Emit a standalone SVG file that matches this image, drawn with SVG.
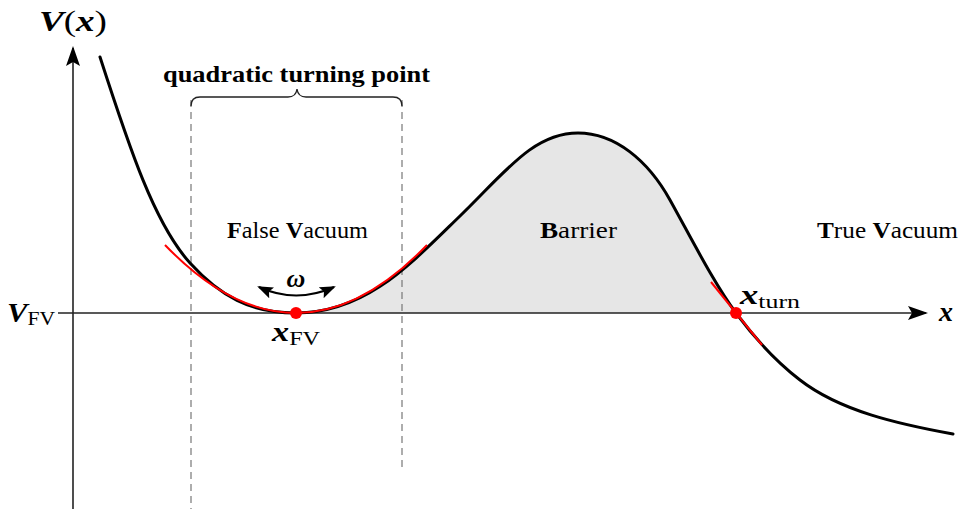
<svg xmlns="http://www.w3.org/2000/svg" width="961" height="509" viewBox="0 0 961 509">
<style>
.lbl{font-family:"Liberation Serif","Times New Roman",serif;fill:#000}
.bi{font-weight:bold;font-style:italic}
.b{font-weight:bold}
.axis{stroke:#222;stroke-width:1.6;fill:none}
.dash{stroke:#777;stroke-width:1.2;stroke-dasharray:7,5;fill:none}
.curve{stroke:#000;stroke-width:3;fill:none;stroke-linecap:round}
.tan{stroke:#f00;stroke-width:2;fill:none}
</style>
<defs>
<marker id="arr" viewBox="0 0 20 14" refX="18" refY="7" markerWidth="20" markerHeight="14" markerUnits="userSpaceOnUse" orient="auto">
<path d="M0,0 L20,7 L0,14 L4,7 Z" fill="#000"/>
</marker>
<marker id="arrs" viewBox="0 0 16 12" refX="14" refY="6" markerWidth="16" markerHeight="12" markerUnits="userSpaceOnUse" orient="auto-start-reverse">
<path d="M0,0 L16,6 L0,12 L3,6 Z" fill="#000"/>
</marker>
</defs>

<g id="barrier-fill">
<path d="M296,313 C366,313 410,264.5 460,216 C505,172.4 533,133 578,133 C615,133 648,160.4 670,200 C692,239.6 714,283.3 736,313 Z" fill="#e6e6e6"/>
</g>

<g id="guides">
<line class="dash" x1="191" y1="100" x2="191" y2="509"/>
<line class="dash" x1="402" y1="100" x2="402" y2="470"/>
<path d="M191,106 Q191,97 200,97 L288,97 Q296,97 297,89 Q298,97 306,97 L393,97 Q402,97 402,106" stroke="#222" stroke-width="1.3" fill="none"/>
<text class="lbl b" x="163" y="82" font-size="23" textLength="267" lengthAdjust="spacingAndGlyphs">quadratic turning point</text>
</g>

<g id="axes">
<line class="axis" x1="58" y1="313" x2="926" y2="313" marker-end="url(#arr)"/>
<line class="axis" x1="73" y1="509" x2="73" y2="48" marker-end="url(#arr)"/>
</g>

<g id="connectors">
<path class="curve" d="M100,57 C130,150 155,224.5 190,263 C220,296 250,313 296,313 C366,313 410,264.5 460,216 C505,172.4 533,133 578,133 C615,133 648,160.4 670,200 C692,239.6 714,283.3 736,313 C756,340 778,363 800,380 C840,411 898,424 953,434"/>
<path class="tan" d="M165,245 Q296,381 427,245"/>
<line class="tan" x1="711" y1="282" x2="762" y2="345"/>
<path d="M259,287 Q296,304 334,287" stroke="#000" stroke-width="2" fill="none" marker-start="url(#arrs)" marker-end="url(#arrs)"/>
</g>

<g id="node-fv">
<circle cx="296" cy="313" r="6" fill="#f00"/>
<text class="lbl" x="272" y="341" font-size="27" textLength="48" lengthAdjust="spacingAndGlyphs"><tspan class="bi">x</tspan><tspan font-size="19" dy="4">FV</tspan></text>
</g>
<g id="node-turn">
<circle cx="736" cy="313" r="6" fill="#f00"/>
<text class="lbl" x="740" y="304" font-size="27" textLength="60" lengthAdjust="spacingAndGlyphs"><tspan class="bi">x</tspan><tspan font-size="19" dy="4">turn</tspan></text>
</g>

<g id="labels">
<text class="lbl" x="39" y="31" font-size="30" textLength="68" lengthAdjust="spacingAndGlyphs"><tspan class="bi">V</tspan><tspan>(</tspan><tspan class="bi">x</tspan><tspan>)</tspan></text>
<text class="lbl" x="7" y="322" font-size="27" textLength="48" lengthAdjust="spacingAndGlyphs"><tspan class="bi">V</tspan><tspan font-size="19" dy="3">FV</tspan></text>
<text class="lbl bi" x="939" y="321" font-size="28">x</text>
<text class="lbl bi" x="296" y="287" font-size="26" text-anchor="middle">ω</text>
<text class="lbl" x="227" y="238" font-size="23" textLength="141" lengthAdjust="spacingAndGlyphs"><tspan class="b">F</tspan>alse <tspan class="b">V</tspan>acuum</text>
<text class="lbl" x="540" y="238" font-size="23" textLength="77" lengthAdjust="spacingAndGlyphs"><tspan class="b">B</tspan>arrier</text>
<text class="lbl" x="817" y="238" font-size="23" textLength="141" lengthAdjust="spacingAndGlyphs"><tspan class="b">T</tspan>rue <tspan class="b">V</tspan>acuum</text>
</g>
</svg>
